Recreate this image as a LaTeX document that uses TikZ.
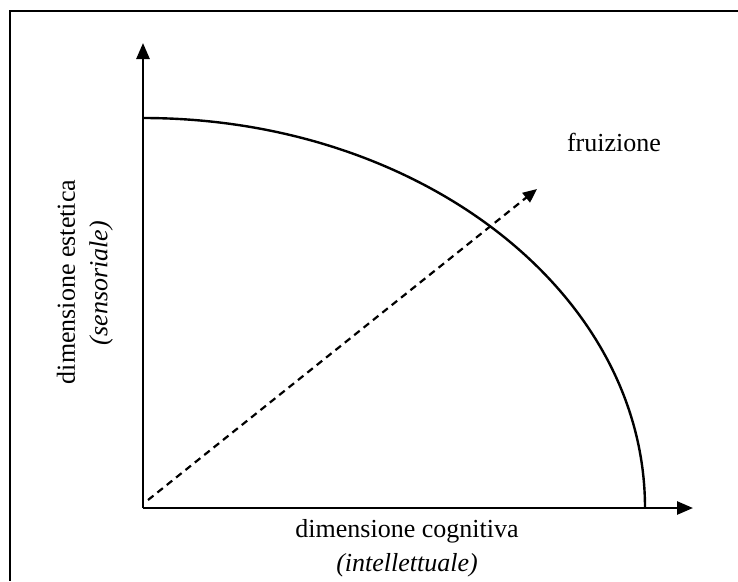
\documentclass[tikz,border=0pt]{standalone}
\usepackage{fontspec}
\setmainfont{Liberation Serif}
\usetikzlibrary{arrows.meta}
\begin{document}
\begin{tikzpicture}[x=1pt,y=-1pt,
  axis/.style={line width=2.6pt,-{Triangle[length=16pt,width=13pt]}},
  frameline/.style={line width=1.8pt},
  curveline/.style={line width=2.4pt},
  flow/.style={line width=2.2pt,dash pattern=on 7pt off 5pt,-{Triangle[length=14pt,width=12pt]}},
  lbl/.style={inner sep=0pt,font=\fontsize{26}{30}\selectfont},
  ilbl/.style={inner sep=0pt,font=\fontsize{26}{30}\selectfont\itshape}]
\useasboundingbox (0,0) rectangle (738,581);
% frame
\coordinate (ftl) at (10,11);
\coordinate (ftr) at (738,11);
\coordinate (fbl) at (10,581);
\draw[frameline] (ftr) -- (ftl) -- (fbl);
% axes
\coordinate (O) at (143,508);
\coordinate (Ytip) at (143,43);
\coordinate (Xtip) at (693,508);
\draw[axis] (O) -- (Ytip);
\draw[axis] (O) -- (Xtip);
% curve
\coordinate (ctop) at (143,118);
\draw[curveline] (ctop) arc[start angle=-90,end angle=0,x radius=502,y radius=390];
% flow arrow
\coordinate (fs) at (148,500);
\coordinate (fe) at (537,189);
\draw[flow] (fs) -- (fe);
% labels
\node[lbl] (fr) at (614,142) {fruizione};
\node[lbl] (xl1) at (407,531) {dimensione cognitiva};
\node[ilbl] (xl2) at (407,565) {(intellettuale)};
\node[lbl,rotate=90] (yl1) at (66,282) {dimensione estetica};
\node[ilbl,rotate=90] (yl2) at (101,283) {(sensoriale)};
\end{tikzpicture}
\end{document}
